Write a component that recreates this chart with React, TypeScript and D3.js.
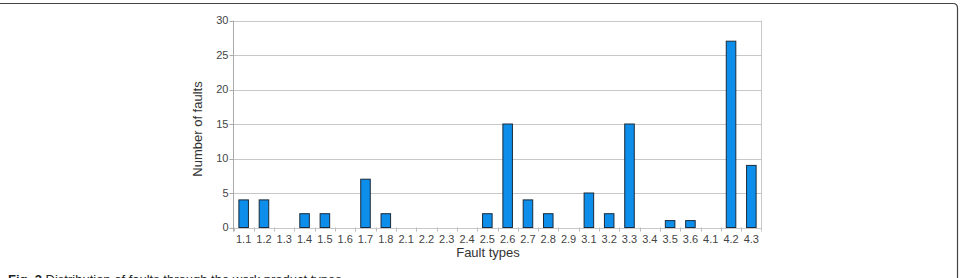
import React from "react";
import * as d3 from "d3";

const categories = ["1.1","1.2","1.3","1.4","1.5","1.6","1.7","1.8","2.1","2.2","2.3","2.4","2.5","2.6","2.7","2.8","2.9","3.1","3.2","3.3","3.4","3.5","3.6","4.1","4.2","4.3"];
const faults = [4,4,0,2,2,0,7,2,0,0,0,0,2,15,4,2,0,5,2,15,0,1,1,0,27,9];
const yTicks = [0,5,10,15,20,25,30];

export default function App() {
  const W = 964, H = 278;
  const left = 233.5, right = 761.5, top = 20.5, bottom = 227.5;
  const x = d3.scaleBand<string>().domain(categories).range([left, right]).paddingInner(0).paddingOuter(0);
  const y = d3.scaleLinear().domain([0, 30]).range([bottom, top]);
  const bw = x.bandwidth() * 0.47;
  const font = "'Liberation Sans', Arial, sans-serif";
  return (
    <svg width={W} height={H} style={{ position: "absolute", left: 0, top: 0, background: "#fff" }}>
      <path d={`M0,3.5 H953 Q957.5,3.5 957.5,8 V${H}`} fill="none" stroke="#444" strokeWidth={1.2} />
      {yTicks.map(t => (
        <g key={t}>
          <line x1={left} x2={right} y1={Math.round(y(t)) + 0.5} y2={Math.round(y(t)) + 0.5} stroke="#c8c8c8" strokeWidth={1} />
          <line x1={left - 4} x2={left} y1={Math.round(y(t)) + 0.5} y2={Math.round(y(t)) + 0.5} stroke="#aaa" strokeWidth={1} />
          <text x={left - 5} y={y(t)} dy="0.35em" textAnchor="end" fontFamily={font} fontSize={11} fill="#444">{t}</text>
        </g>
      ))}
      <line x1={left} x2={left} y1={top} y2={bottom + 4} stroke="#aaa" />
      <line x1={right} x2={right} y1={top} y2={bottom + 4} stroke="#c8c8c8" />
      {categories.map((c, i) => (
        <g key={c}>
          <line x1={Math.round(x(c)!) + 0.5} x2={Math.round(x(c)!) + 0.5} y1={bottom} y2={bottom + 4} stroke="#bbb" />
          <text x={x(c)! + x.bandwidth() / 2} y={243} textAnchor="middle" fontFamily={font} fontSize={11} fill="#444">{c}</text>
          {faults[i] > 0 && (
            <rect x={x(c)! + (x.bandwidth() - bw) / 2} y={y(faults[i])} width={bw} height={bottom - y(faults[i])} fill="#0d8eeb" stroke="#1a2a3a" strokeWidth={1} />
          )}
        </g>
      ))}
      <text x={488} y={257} textAnchor="middle" fontFamily={font} fontSize={13} fill="#333">Fault types</text>
      <text transform={`translate(202,129) rotate(-90)`} textAnchor="middle" fontFamily={font} fontSize={13} fill="#333">Number of faults</text>
      <text x={8} y={284} fontFamily={font} fontSize={13} fill="#222"><tspan fontWeight="bold">Fig. 3</tspan> Distribution of faults through the work product types</text>
    </svg>
  );
}
